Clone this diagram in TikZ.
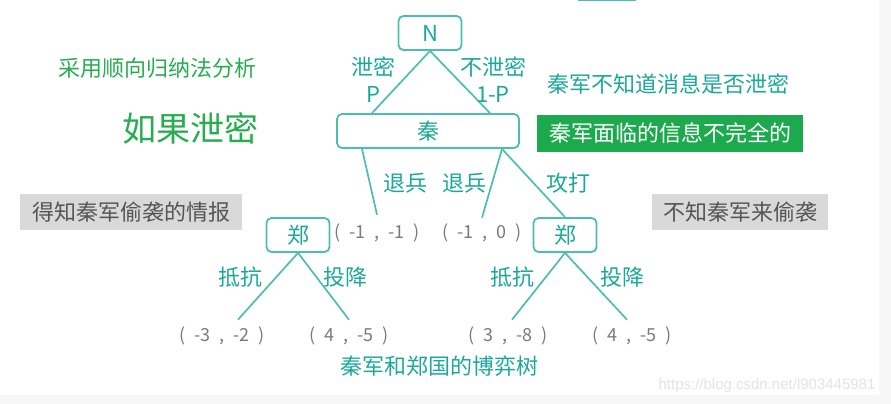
\documentclass[tikz,border=0pt]{standalone}
\usepackage{fontspec}
\setmainfont{Noto Sans CJK SC}
\newfontfamily\markfont{Liberation Sans}
\usepackage{xcolor}
\definecolor{treeline}{HTML}{4DBDB4}
\definecolor{treetext}{HTML}{1BA89B}
\definecolor{notegreen}{HTML}{27AD50}
\definecolor{boxgreen}{HTML}{1DAA4F}
\definecolor{boxgray}{HTML}{D9D9D9}
\definecolor{textgray}{HTML}{555555}
\definecolor{paygray}{HTML}{7A7A7A}
\newcommand{\payoff}[2]{(\enspace#1\enspace,\enspace#2\enspace)}

\begin{document}
\begin{tikzpicture}[x=1pt,y=-1pt,
    player/.style={draw=treeline,line width=1.8pt,rounded corners=5pt,fill=white,
        text=treetext,font=\fontsize{22}{22}\selectfont,minimum height=34pt,inner sep=0pt},
    branch/.style={draw=treeline,line width=1.7pt},
    movelabel/.style={text=treetext,font=\fontsize{22}{27}\selectfont,inner sep=0pt,align=center},
    payofftext/.style={text=paygray,font=\fontsize{18}{18}\selectfont,inner sep=0pt},
    notetext/.style={font=\fontsize{22}{22}\selectfont,inner sep=0pt},
    graybox/.style={notetext,fill=boxgray,text=textgray,minimum height=36pt}]
    \useasboundingbox (0,0) rectangle (891,404);
    \fill[gray!6] (879,0) rectangle (891,404);
    \fill[gray!6] (0,395) rectangle (879,404);
    \fill[treeline] (578,0) rectangle (636,1.5);
    \node[player,minimum width=63pt] (N) at (430,33) {N};
    \node[player,minimum width=182pt] (qin) at (428,131) {秦};
    \node[player,minimum width=63pt] (zheng1) at (298,235) {郑};
    \node[player,minimum width=63pt] (zheng2) at (565,235) {郑};
    \node[payofftext] (p11) at (377,233) {\payoff{-1}{-1}};
    \node[payofftext] (p12) at (482,233) {\payoff{-1}{0}};
    \node[payofftext] (p21) at (222,336) {\payoff{-3}{-2}};
    \node[payofftext] (p22) at (349,336) {\payoff{4}{-5}};
    \node[payofftext] (p31) at (508,336) {\payoff{3}{-8}};
    \node[payofftext] (p32) at (632,336) {\payoff{4}{-5}};
    \draw[branch] (N.south) -- ([xshift=-56pt]qin.north);
    \draw[branch] (N.south) -- ([xshift=62pt]qin.north);
    \draw[branch] ([xshift=-66pt]qin.south) -- ([yshift=9pt]p11.north);
    \draw[branch] ([xshift=74pt]qin.south) -- ([yshift=6pt]p12.north);
    \draw[branch] ([xshift=74pt]qin.south) -- (zheng2.north);
    \draw[branch] (zheng1.south) -- ([xshift=16pt,yshift=7pt]p21.north);
    \draw[branch] (zheng1.south) -- ([yshift=7pt]p22.north);
    \draw[branch] (zheng2.south) -- ([xshift=4pt,yshift=7pt]p31.north);
    \draw[branch] (zheng2.south) -- ([xshift=-5pt,yshift=7pt]p32.north);
    \node[movelabel] (leak) at (373,80) {泄密\\P};
    \node[movelabel] (noleak) at (493,80) {不泄密\\1-P};
    \node[movelabel] (retreat1) at (405,183) {退兵};
    \node[movelabel] (retreat2) at (464,183) {退兵};
    \node[movelabel] (attack) at (568,183) {攻打};
    \node[movelabel] (resist1) at (240,277) {抵抗};
    \node[movelabel] (yield1) at (345,277) {投降};
    \node[movelabel] (resist2) at (512,277) {抵抗};
    \node[movelabel] (yield2) at (622,277) {投降};
    \node[notetext,text=treetext] (title) at (439,366) {秦军和郑国的博弈树};
    \node[notetext,text=notegreen] (method) at (157,68) {采用顺向归纳法分析};
    \node[notetext,text=notegreen,font=\fontsize{34}{34}\selectfont] (iflea) at (190,128) {如果泄密};
    \node[graybox,minimum width=222pt] (knows) at (131,212) {得知秦军偷袭的情报};
    \node[notetext,text=treetext] (unknown) at (668,84) {秦军不知道消息是否泄密};
    \node[notetext,fill=boxgreen,text=white,minimum width=266pt,minimum height=37pt] (incomplete) at (670,133) {秦军面临的信息不完全的};
    \node[graybox,minimum width=176pt] (notknow) at (740,212) {不知秦军来偷袭};
    \node[text=gray!22,font=\markfont\fontsize{15}{15}\selectfont,inner sep=0pt] (mark) at (767,386) {https://blog.csdn.net/l903445981};
\end{tikzpicture}
\end{document}
